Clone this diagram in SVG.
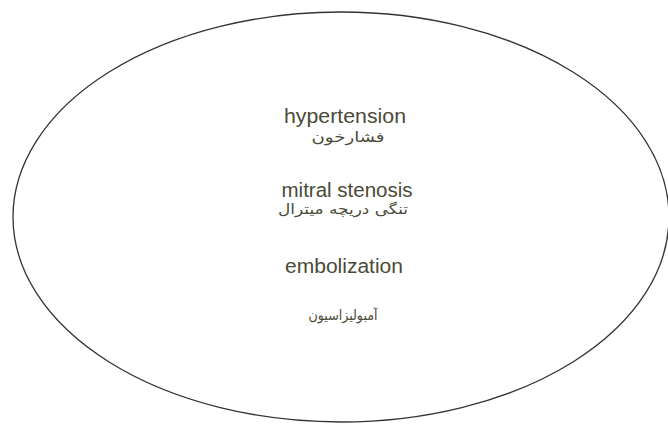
<svg xmlns="http://www.w3.org/2000/svg" width="668" height="424" viewBox="0 0 668 424">
<style>
.shape{fill:#ffffff;stroke:#333333;stroke-width:1.3}
.en{font-family:"Liberation Sans",Arial,sans-serif;font-size:20px;fill:#4a4a38;text-anchor:middle}
.fa{font-family:"DejaVu Sans","Noto Sans",sans-serif;font-size:14px;fill:#4a4a38;text-anchor:middle}
</style>
<rect width="668" height="424" fill="#ffffff"/>
<g id="node-main">
<ellipse class="shape" cx="341" cy="217" rx="328" ry="205"/>
<text class="en" x="345" y="123" textLength="122" lengthAdjust="spacingAndGlyphs">hypertension</text>
<text class="fa" x="348" y="142" direction="rtl" textLength="73" lengthAdjust="spacingAndGlyphs">فشارخون</text>
<text class="en" x="347" y="197" textLength="131" lengthAdjust="spacingAndGlyphs">mitral stenosis</text>
<text class="fa" x="343" y="214" direction="rtl" textLength="130" lengthAdjust="spacingAndGlyphs">تنگی دریچه میترال</text>
<text class="en" x="344" y="273" textLength="118" lengthAdjust="spacingAndGlyphs">embolization</text>
<text class="fa" x="343" y="320" direction="rtl" textLength="69" lengthAdjust="spacingAndGlyphs">آمبولیزاسیون</text>
</g>
<g id="connectors"/>
</svg>
